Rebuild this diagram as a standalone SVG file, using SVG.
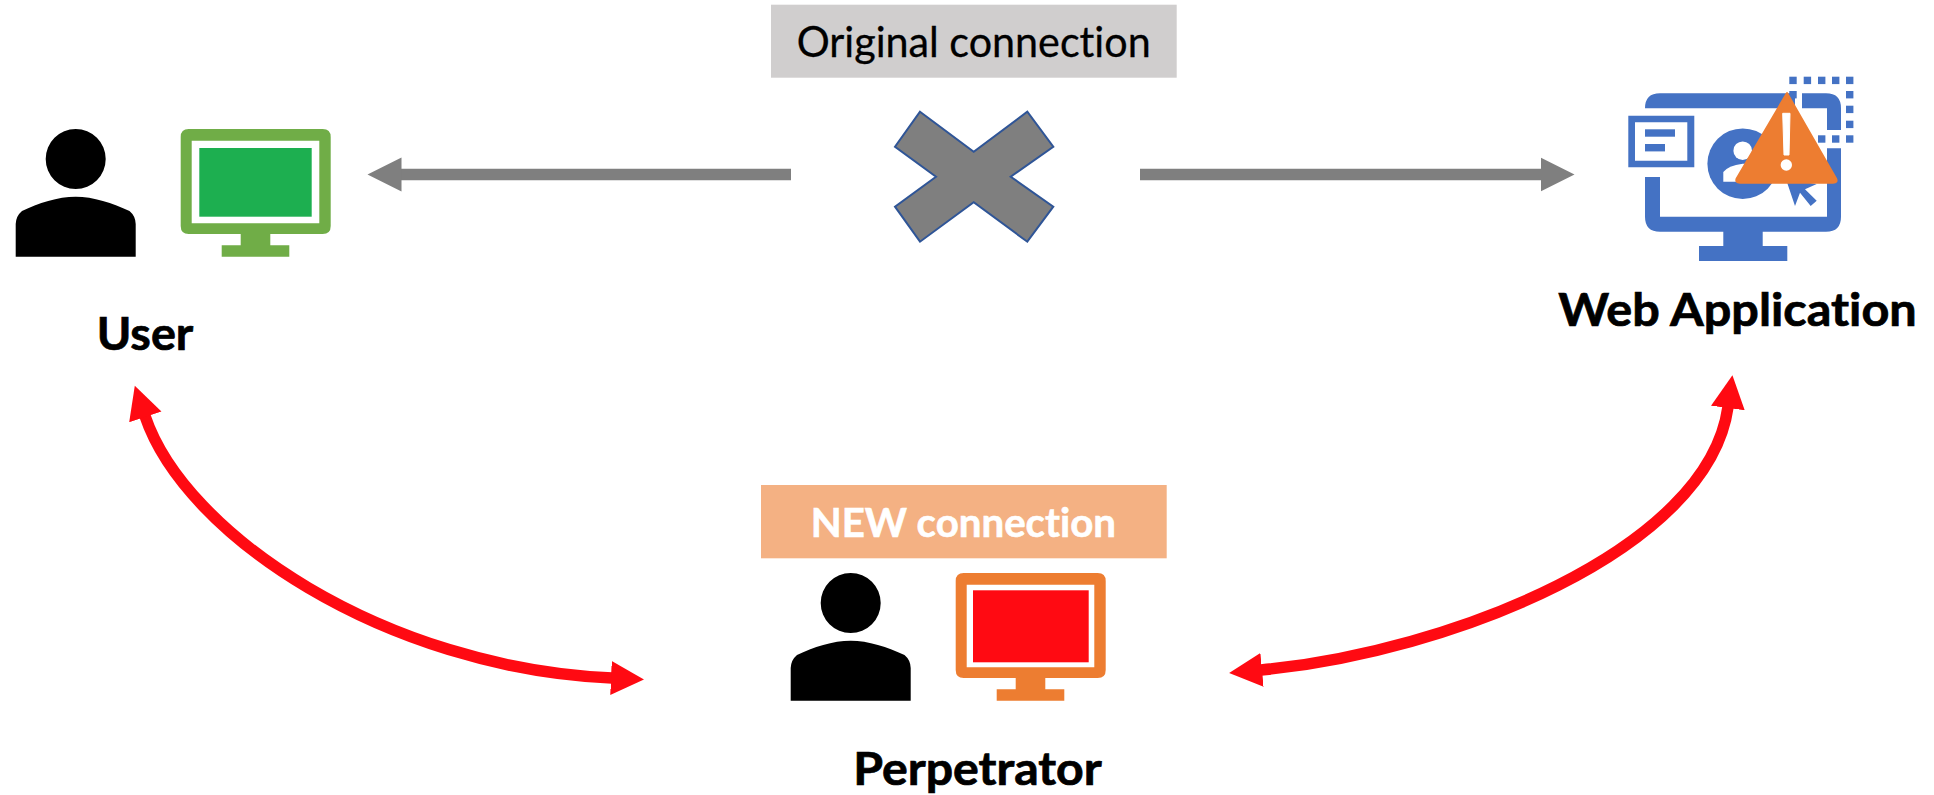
<svg xmlns="http://www.w3.org/2000/svg" width="1934" height="795" viewBox="0 0 1934 795">
<style>
text{font-family:Lato,"Open Sans","Liberation Sans",sans-serif;font-variant-ligatures:none}
.bold{font-weight:700;font-size:45px;fill:#000;stroke:#000;stroke-width:.7}
.orig{font-size:42px;fill:#000;stroke:#000;stroke-width:.3}
.new{font-weight:700;font-size:41px;fill:#fff;stroke:#fff;stroke-width:.6}
.gray{fill:none;stroke:#7f7f7f;stroke-width:11.5}
.red{fill:none;stroke:#ff0a12;stroke-width:11.5}
.blue{fill:#4472c4}
</style>
<defs>
<marker id="ga" markerUnits="userSpaceOnUse" orient="auto-start-reverse" markerWidth="36" markerHeight="36" refX="1" refY="18" viewBox="0 0 36 36"><path d="M0 1L34 18L0 35Z" fill="#7f7f7f"/></marker>
<marker id="ra" markerUnits="userSpaceOnUse" orient="auto-start-reverse" markerWidth="38" markerHeight="38" refX="1" refY="19" viewBox="0 0 38 38"><path d="M0 2L33 19L0 36Z" fill="#ff0a12"/></marker>
<path id="person" d="M15.700 256.700V224Q16 216 22 211C38 203 58 196.700 75.700 196.700C93 196.700 113 203 129.500 211Q135.500 216 135.700 224V256.700ZM45.700 159a30 30 0 1 0 60 0a30 30 0 1 0 -60 0Z"/>
<path id="monitor" fill-rule="evenodd" d="M188.700 129H322.700Q330.700 129 330.700 137V226Q330.700 234 322.700 234H270.300V245.300H289.300V256.700H221.700V245.300H240.700V234H188.700Q180.700 234 180.700 226V137Q180.700 129 188.700 129ZM191.700 140.700V223.300H319.300V140.700Z"/>
</defs>
<rect width="1934" height="795" fill="#fff"/>
<g id="connectors">
<path class="gray" d="M791 174.500H400.500" marker-end="url(#ga)"/>
<path class="gray" d="M1140 174.500H1541.500" marker-end="url(#ga)"/>
<path class="red" d="M145 416C185 535 385 668 612 678" marker-start="url(#ra)" marker-end="url(#ra)"/>
<path class="red" d="M1261 670C1450 652 1708 550 1728 407" marker-start="url(#ra)" marker-end="url(#ra)"/>
</g>
<g id="original-connection-label">
<rect x="771" y="4.700" width="405.700" height="73" fill="#d0cece"/>
<text class="orig" x="796.700" y="56.700" textLength="354" lengthAdjust="spacingAndGlyphs">Original connection</text>
</g>
<g id="cross">
<path d="M920 111.700L973.700 151.700L1027.300 111.700L1053.300 146.700L1010.700 176.700L1053.300 206.700L1027.300 241.700L973.700 202.300L920 241.700L895 206.700L936 176.700L895 146.700Z" fill="#7f7f7f" stroke="#2f5597" stroke-width="2"/>
</g>
<g id="user">
<use href="#person" fill="#000"/>
<use href="#monitor" fill="#70ad47"/>
<rect x="199.300" y="148" width="112.400" height="68.700" fill="#1daf50"/>
<text class="bold" x="96.700" y="350" textLength="96.600" lengthAdjust="spacingAndGlyphs">User</text>
</g>
<g id="new-connection-label">
<rect x="761" y="485" width="405.700" height="73.300" fill="#f4b183"/>
<text class="new" x="810.700" y="536.700" textLength="305.300" lengthAdjust="spacingAndGlyphs">NEW connection</text>
</g>
<g id="perpetrator">
<use href="#person" x="775" y="444" fill="#000"/>
<use href="#monitor" x="775" y="444" fill="#ed7d31"/>
<rect x="973" y="590.300" width="115.700" height="72" fill="#ff0a12"/>
<text class="bold" x="853.300" y="785" textLength="248.400" lengthAdjust="spacingAndGlyphs">Perpetrator</text>
</g>
<g id="web-application">
<g class="blue">
<path d="M1645 108.300Q1645 93.300 1660 93.300H1826Q1841 93.300 1841 108.300V130H1827V108.300H1645Z"/>
<path d="M1645 177H1660V216.700H1827V148.300H1841V216.700Q1841 231.700 1826 231.700H1660Q1645 231.700 1645 216.700Z"/>
<rect x="1723.300" y="231" width="39.400" height="16"/>
<rect x="1699" y="246" width="88.300" height="15"/>
<path fill-rule="evenodd" d="M1628.300 115.700H1694.300V167.300H1628.300ZM1635 122.300V160.700H1687.300V122.300Z"/>
<rect x="1645" y="129.300" width="30" height="7.400"/>
<rect x="1645" y="144" width="20" height="7.400"/>
<circle cx="1742.700" cy="163.700" r="35.300"/>
<path d="M1786 179.300L1795 206L1800 192.700L1810.700 206L1816.700 200.700L1805 189.300L1816.700 184Z"/>
</g>
<rect x="1795" y="92" width="7" height="17" fill="#fff"/>
<g id="dots" class="blue">
<rect x="1789.300" y="76.700" width="7.400" height="7.400"/><rect x="1803.700" y="76.700" width="7.400" height="7.400"/><rect x="1818" y="76.700" width="7.400" height="7.400"/><rect x="1832" y="76.700" width="7.400" height="7.400"/><rect x="1846" y="76.700" width="7.400" height="7.400"/>
<rect x="1846" y="91" width="7.400" height="7.400"/><rect x="1846" y="105.700" width="7.400" height="7.400"/><rect x="1846" y="120.700" width="7.400" height="7.400"/><rect x="1846" y="135.300" width="7.400" height="7.400"/>
<rect x="1832" y="135.300" width="7.400" height="7.400"/><rect x="1818" y="135.300" width="7.400" height="7.400"/>
<rect x="1789.300" y="91" width="7.400" height="7.400"/>
</g>
<circle cx="1742.700" cy="150.700" r="9.300" fill="#fff"/>
<path d="M1723.300 181.700V172Q1728 165.700 1742.700 163.700H1760V181.700Z" fill="#fff"/>
<path d="M1787 93L1736.700 178.500Q1735 182.700 1740 182.700H1833Q1838 182.700 1836 178.500L1787 93Z" fill="#ed7d31" stroke="#ed7d31" stroke-width="2" stroke-linejoin="round"/>
<path d="M1782.700 113.300H1790L1789 155H1784Z" fill="#fff" stroke="#fff" stroke-width="1"/>
<circle cx="1786.300" cy="165" r="5.700" fill="#fff"/>
<text class="bold" x="1558.300" y="326" textLength="358.400" lengthAdjust="spacingAndGlyphs">Web Application</text>
</g>
</svg>
